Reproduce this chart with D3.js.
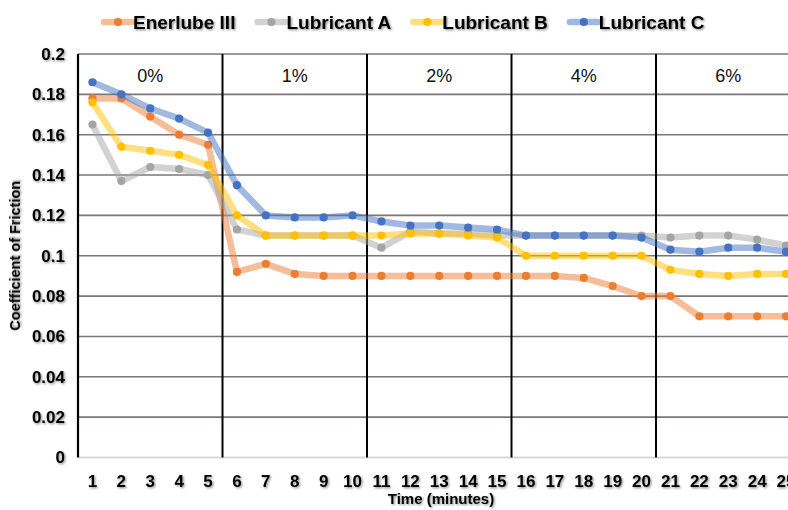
<!DOCTYPE html>
<html>
<head>
<meta charset="utf-8">
<script src="https://cdn.jsdelivr.net/npm/d3@7"></script>
<style>
  html, body { margin: 0; padding: 0; background: #fff; }
  svg { display: block; font-family: "Liberation Sans", Arial, sans-serif; }
</style>
</head>
<body>
<svg id="chart" width="788" height="510"></svg>
<script>
const categories = ['1', '2', '3', '4', '5', '6', '7', '8', '9', '10', '11', '12', '13',
  '14', '15', '16', '17', '18', '19', '20', '21', '22', '23', '24', '25']
const sections = ['0%', '1%', '2%', '4%', '6%']
const yTicks = [0, 0.02, 0.04, 0.06, 0.08, 0.1, 0.12, 0.14, 0.16, 0.18, 0.2]

const enerlube = [0.178, 0.178, 0.169, 0.160, 0.155, 0.092, 0.096, 0.091, 0.090, 0.090,
  0.090, 0.090, 0.090, 0.090, 0.090, 0.090, 0.090, 0.089, 0.085, 0.080,
  0.080, 0.070, 0.070, 0.070, 0.070]
const lubA = [0.165, 0.137, 0.144, 0.143, 0.140, 0.113, 0.110, 0.110, 0.110, 0.110,
  0.104, 0.112, 0.111, 0.111, 0.110, 0.110, 0.110, 0.110, 0.110, 0.110,
  0.109, 0.110, 0.110, 0.108, 0.105]
const lubB = [0.176, 0.154, 0.152, 0.150, 0.145, 0.120, 0.110, 0.110, 0.110, 0.110,
  0.110, 0.111, 0.111, 0.110, 0.109, 0.100, 0.100, 0.100, 0.100, 0.100,
  0.093, 0.091, 0.090, 0.091, 0.091]
const lubC = [0.186, 0.180, 0.173, 0.168, 0.161, 0.135, 0.120, 0.119, 0.119, 0.120,
  0.117, 0.115, 0.115, 0.114, 0.113, 0.110, 0.110, 0.110, 0.110, 0.109,
  0.103, 0.102, 0.104, 0.104, 0.102]

const seriesNames = ['Enerlube III', 'Lubricant A', 'Lubricant B', 'Lubricant C']
const seriesValues = [enerlube, lubA, lubB, lubC]
const colors = ['#ED7D31', '#A5A5A5', '#FFC000', '#4472C4']

const series = seriesNames.map((name, i) => ({ name, values: seriesValues[i], color: colors[i] }))

const margin = { top: 54, left: 78, bottom: 52 }
const height = 510
const step = 28.9
const dotR = 4.1

const svg = d3.select('#chart')

// soft shadow used by the labels
const defs = svg.append('defs')
const shadow = defs.append('filter').attr('id', 'shadow')
  .attr('x', '-10%').attr('y', '-30%').attr('width', '130%').attr('height', '170%')
shadow.append('feDropShadow')
  .attr('dx', 1.2).attr('dy', 1.2).attr('stdDeviation', 1)
  .attr('flood-color', '#000').attr('flood-opacity', 0.45)

/** Scales */
const x = d3.scaleBand()
  .domain(categories)
  .range([margin.left, margin.left + categories.length * step])
  .padding(0)

const y = d3.scaleLinear()
  .domain([0, 0.2])
  .range([height - margin.bottom - 0.5, margin.top])

const cx = d => x(d) + x.bandwidth() / 2

/** Gridlines */
svg.append('g')
  .selectAll('line')
  .data(yTicks.slice(1))
  .enter()
  .append('line')
  .attr('x1', margin.left)
  .attr('x2', 800)
  .attr('y1', d => y(d))
  .attr('y2', d => y(d))
  .attr('stroke', '#7d7676')
  .attr('stroke-width', 1.6)

// baseline at zero
svg.append('line')
  .attr('x1', margin.left).attr('x2', 800)
  .attr('y1', y(0)).attr('y2', y(0))
  .attr('stroke', '#d9d9d9').attr('stroke-width', 2)

/** Section dividers + labels */
const secStarts = sections.map((s, i) => categories[i * 5])
svg.append('g')
  .selectAll('line')
  .data(secStarts.slice(1))
  .enter()
  .append('line')
  .attr('x1', d => x(d))
  .attr('x2', d => x(d))
  .attr('y1', y(0.2))
  .attr('y2', y(0))
  .attr('stroke', '#000')
  .attr('stroke-width', 2)

svg.append('g')
  .selectAll('text')
  .data(sections)
  .enter()
  .append('text')
  .attr('x', (d, i) => x(categories[i * 5]) + 2.5 * step)
  .attr('y', 82)
  .attr('text-anchor', 'middle')
  .attr('font-size', 18)
  .attr('fill', '#111')
  .text(d => d)

/** Axes */
const yAxis = d3.axisLeft(y)
  .tickValues(yTicks)
  .tickSize(0)
  .tickPadding(13)
  .tickFormat(d => String(+d.toFixed(2)))

const yg = svg.append('g')
  .attr('transform', `translate(${margin.left})`)
  .call(yAxis)
yg.select('.domain').remove()
yg.selectAll('text')
  .attr('font-size', 17)
  .attr('font-weight', 'bold')
  .attr('fill', '#000')
  .attr('font-family', '"Liberation Sans", Arial, sans-serif')
  .attr('filter', 'url(#shadow)')

svg.append('line')
  .attr('x1', margin.left).attr('x2', margin.left)
  .attr('y1', y(0.2)).attr('y2', y(0))
  .attr('stroke', '#000').attr('stroke-width', 2.2)

const xAxis = d3.axisBottom(x).tickSize(0).tickPadding(17)
const xg = svg.append('g')
  .attr('transform', `translate(0,${y(0)})`)
  .call(xAxis)
xg.select('.domain').remove()
xg.selectAll('text')
  .attr('font-size', 17)
  .attr('font-weight', 'bold')
  .attr('fill', '#000')
  .attr('font-family', '"Liberation Sans", Arial, sans-serif')
  .attr('filter', 'url(#shadow)')

/** Axis titles */
svg.append('text')
  .attr('transform', `translate(20,${(y(0) + y(0.2)) / 2}) rotate(-90)`)
  .attr('text-anchor', 'middle')
  .attr('font-size', 14.5)
  .attr('font-weight', 'bold')
  .attr('fill', '#000')
  .attr('filter', 'url(#shadow)')
  .text('Coefficient of Friction')

svg.append('text')
  .attr('x', 441)
  .attr('y', 504)
  .attr('text-anchor', 'middle')
  .attr('font-size', 15)
  .attr('font-weight', 'bold')
  .attr('fill', '#000')
  .attr('filter', 'url(#shadow)')
  .text('Time (minutes)')

/** Lines + markers */
const line = d3.line()
  .x((d, i) => cx(categories[i]))
  .y(d => y(d))

const sg = svg.append('g')
  .selectAll('g')
  .data(series)
  .enter()
  .append('g')

sg.append('path')
  .attr('d', d => line(d.values))
  .attr('fill', 'none')
  .attr('stroke', d => d.color)
  .attr('stroke-opacity', 0.5)
  .attr('stroke-width', 6.5)
  .attr('stroke-linejoin', 'round')

sg.selectAll('circle')
  .data(d => d.values.map(v => ({ v, color: d.color })))
  .enter()
  .append('circle')
  .attr('cx', (d, i) => cx(categories[i]))
  .attr('cy', d => y(d.v))
  .attr('r', dotR)
  .attr('fill', d => d.color)

/** Legend */
const legend = svg.append('g').attr('transform', 'translate(104,22)')
let lx = 0
series.forEach(s => {
  const item = legend.append('g').attr('transform', `translate(${lx},0)`)
  item.append('line')
    .attr('x1', 0).attr('x2', 28)
    .attr('stroke', s.color).attr('stroke-opacity', 0.5)
    .attr('stroke-width', 6.5).attr('stroke-linecap', 'round')
  item.append('circle').attr('cx', 14).attr('r', dotR).attr('fill', s.color)
  const t = item.append('text')
    .attr('x', 29)
    .attr('y', 7)
    .attr('font-size', 19)
    .attr('font-weight', 'bold')
    .attr('fill', '#000')
    .attr('filter', 'url(#shadow)')
    .text(s.name)
  lx += 29 + t.node().getComputedTextLength() + 22
})
</script>
</body>
</html>
